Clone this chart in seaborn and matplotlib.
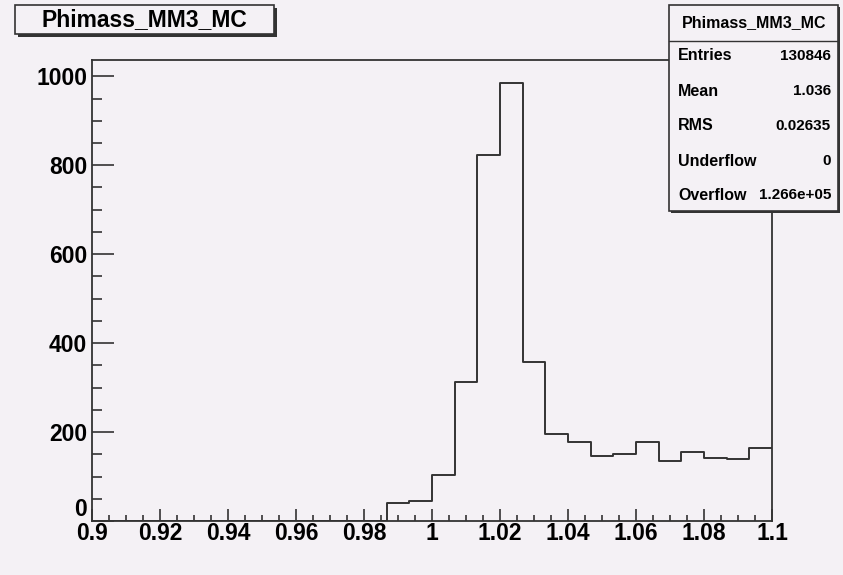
import numpy as np
import pandas as pd
import matplotlib
matplotlib.use("Agg")
import matplotlib.pyplot as plt
from matplotlib.patches import Rectangle
from matplotlib.ticker import MultipleLocator
import seaborn as sns

# histogram content, 30 bins between 0.9 and 1.1
x_min, x_max, n_bins = 0.9, 1.1, 30
counts = [0, 0, 0, 0, 0, 0, 0, 0, 0, 0, 0, 0, 0,
          40, 45, 103, 312, 823, 985, 358, 196, 177, 147, 150,
          177, 136, 155, 142, 139, 164]

hist_title = "Phimass_MM3_MC"
stat_names = ["Entries", "Mean", "RMS", "Underflow", "Overflow"]
stat_values = ["130846", "1.036", "0.02635", "0", "1.266e+05"]

x_ticks = [0.9, 0.92, 0.94, 0.96, 0.98, 1.0, 1.02, 1.04, 1.06, 1.08, 1.1]
x_tick_labels = ["0.9", "0.92", "0.94", "0.96", "0.98", "1", "1.02", "1.04", "1.06", "1.08", "1.1"]
y_ticks = [0, 200, 400, 600, 800, 1000]

W, H = 843, 575
BG = "#f4f1f5"
INK = "#333333"

sns.set_theme(style="white")
plt.rcParams["font.family"] = ["Liberation Sans", "DejaVu Sans"]
plt.rcParams["font.weight"] = "bold"


def px_rect(x0, y0, x1, y1):
    """pixel box (top-left origin) -> figure fraction (x, y, w, h)"""
    return x0 / W, 1 - y1 / H, (x1 - x0) / W, (y1 - y0) / H


def box(fig, x0, y0, x1, y1, shadow=3):
    # drop shadow first, then the box itself
    sx, sy, sw, sh = px_rect(x0 + shadow, y0 + shadow, x1 + shadow, y1 + shadow)
    fig.add_artist(Rectangle((sx, sy), sw, sh, transform=fig.transFigure,
                             facecolor=INK, edgecolor="none", zorder=10))
    bx, by, bw, bh = px_rect(x0, y0, x1, y1)
    fig.add_artist(Rectangle((bx, by), bw, bh, transform=fig.transFigure,
                             facecolor=BG, edgecolor=INK, linewidth=1.2, zorder=11))


fig = plt.figure(figsize=(W / 100, H / 100), dpi=100, facecolor=BG)
ax = fig.add_axes(px_rect(92, 60, 772, 521))
ax.set_facecolor(BG)

edges = np.linspace(x_min, x_max, n_bins + 1)
centers = (edges[:-1] + edges[1:]) / 2
df = pd.DataFrame({"mass": centers, "count": counts})

sns.histplot(data=df, x="mass", weights="count", bins=n_bins, binrange=(x_min, x_max),
             element="step", fill=False, color=INK, linewidth=1.4, ax=ax)

ax.set_xlim(x_min, x_max)
ax.set_ylim(0, max(counts) * 1.0525)
ax.set_xlabel("")
ax.set_ylabel("")

ax.set_xticks(x_ticks)
ax.set_xticklabels(x_tick_labels)
ax.set_yticks(y_ticks)
ax.xaxis.set_minor_locator(MultipleLocator(0.005))
ax.yaxis.set_minor_locator(MultipleLocator(50))

ax.tick_params(axis="x", which="major", direction="in", length=9, width=1.2,
               color=INK, labelsize=16.5, pad=1, labelcolor="black")
ax.tick_params(axis="x", which="minor", direction="in", length=4.5, width=1.2, color=INK)
ax.tick_params(axis="y", which="major", direction="in", length=15.5, width=1.2,
               color=INK, labelsize=16.5, pad=3.5, labelcolor="black")
ax.tick_params(axis="y", which="minor", direction="in", length=7.5, width=1.2, color=INK)
ax.tick_params(top=False, right=False, which="both")
ax.tick_params(axis="both", which="both", bottom=True, left=True)
for side in ax.spines.values():
    side.set_color(INK)
    side.set_linewidth(1.3)

# ROOT lifts the "0" label above the x axis
fig.canvas.draw()
ax.get_yticklabels()[0].set_verticalalignment("bottom")

# title box
box(fig, 15, 5, 274, 34)
fig.text(144.5 / W, 1 - 20 / H, hist_title, ha="center", va="center",
         fontsize=16.5, fontweight="bold", color="black", zorder=12)

# stats box
box(fig, 669, 5, 838, 211, shadow=2)
sep_y = 1 - 41 / H
fig.add_artist(plt.Line2D([669 / W, 838 / W], [sep_y, sep_y], transform=fig.transFigure,
                          color=INK, linewidth=1.0, zorder=12))
fig.text(754 / W, 1 - 23 / H, hist_title, ha="center", va="center",
         fontsize=11.5, fontweight="bold", color="black", zorder=12)
row_y = [56, 91, 126, 161, 195]
for name, val, y in zip(stat_names, stat_values, row_y):
    fig.text(678 / W, 1 - y / H, name, ha="left", va="center",
             fontsize=11.5, fontweight="bold", color="black", zorder=12)
    fig.text(831 / W, 1 - y / H, val, ha="right", va="center",
             fontsize=11, fontweight="bold", color="black", zorder=12)

fig.savefig("out.png", dpi=100, facecolor=BG)
